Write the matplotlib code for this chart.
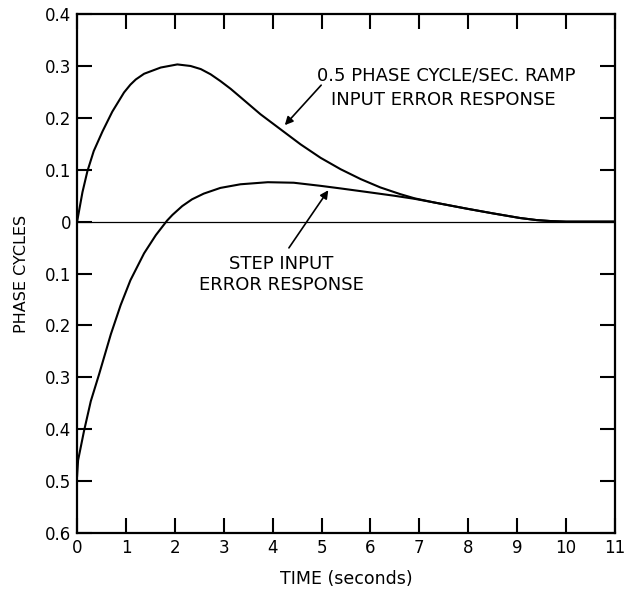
import matplotlib
matplotlib.use("Agg")
import matplotlib.pyplot as plt

# curves (time in s, phase cycles)
ramp_t = [0, 0.11, 0.21, 0.34, 0.52, 0.72, 0.96, 1.09, 1.2, 1.37, 1.71,
          2.05, 2.32, 2.53, 2.73, 2.93, 3.14, 3.34, 3.75, 4.16, 4.57, 4.98,
          5.39, 5.8, 6.2, 6.61, 6.9, 7.3, 7.97, 8.5, 9.06, 9.4, 9.7, 10.0,
          11.0]
ramp_err = [0.0, 0.057, 0.097, 0.136, 0.174, 0.212, 0.249, 0.264, 0.274,
            0.285, 0.297, 0.303, 0.300, 0.294, 0.284, 0.271, 0.256, 0.240,
            0.207, 0.178, 0.149, 0.123, 0.101, 0.082, 0.066, 0.053, 0.045,
            0.037, 0.025, 0.016, 0.007, 0.003, 0.001, 0.0, 0.0]

step_t = [0, 0.02, 0.14, 0.28, 0.45, 0.69, 0.89, 1.09, 1.37, 1.61, 1.84,
          1.95, 2.15, 2.35, 2.59, 2.93, 3.34, 3.9, 4.43, 4.98, 5.39, 5.94,
          6.48, 6.9, 7.3, 7.97, 8.5, 9.06, 9.4, 9.7, 10.0, 11.0]
step_err = [-0.49, -0.46, -0.404, -0.346, -0.294, -0.217, -0.161, -0.113,
            -0.061, -0.026, 0.002, 0.013, 0.030, 0.043, 0.054, 0.065, 0.072,
            0.076, 0.075, 0.069, 0.064, 0.057, 0.050, 0.044, 0.037, 0.025,
            0.016, 0.007, 0.003, 0.001, 0.0, 0.0]

x_ticks = list(range(0, 12))
y_ticks = [0.4, 0.3, 0.2, 0.1, 0.0, -0.1, -0.2, -0.3, -0.4, -0.5, -0.6]
y_labels = ["0.4", "0.3", "0.2", "0.1", "0", "0.1", "0.2", "0.3", "0.4",
            "0.5", "0.6"]

plt.rcParams["font.family"] = ["DejaVu Sans"]

fig = plt.figure(figsize=(6.32, 5.92), dpi=100)
ax = fig.add_axes([0.122, 0.0997, 0.851, 0.8765])

ax.axhline(0, color="black", lw=0.9)
ax.plot(ramp_t, ramp_err, color="black", lw=1.5, solid_joinstyle="round")
ax.plot(step_t, step_err, color="black", lw=1.5, solid_joinstyle="round")

ax.set_xlim(0, 11)
ax.set_ylim(-0.6, 0.4)
ax.set_xticks(x_ticks)
ax.set_yticks(y_ticks)
ax.set_yticklabels(y_labels)
ax.tick_params(direction="in", length=11, width=1.5, labelsize=12,
               top=True, right=True, pad=4)
for s in ax.spines.values():
    s.set_linewidth(1.6)

ax.set_xlabel("TIME (seconds)", fontsize=12.5, labelpad=10)
ax.set_ylabel("PHASE CYCLES", fontsize=11.5, labelpad=12)

ax.text(7.55, 0.282, "0.5 PHASE CYCLE/SEC. RAMP", ha="center", va="center",
        fontsize=13)
ax.text(7.5, 0.234, "INPUT ERROR RESPONSE", ha="center", va="center",
        fontsize=13)
ax.annotate("", xy=(4.21, 0.182), xytext=(5.03, 0.267),
            arrowprops=dict(arrowstyle="-|>", color="black", lw=1.2,
                            mutation_scale=12))

ax.text(4.17, -0.082, "STEP INPUT", ha="center", va="center", fontsize=13)
ax.text(4.17, -0.122, "ERROR RESPONSE", ha="center", va="center", fontsize=13)
ax.annotate("", xy=(5.17, 0.065), xytext=(4.3, -0.055),
            arrowprops=dict(arrowstyle="-|>", color="black", lw=1.2,
                            mutation_scale=12))

fig.savefig("out.png", dpi=100)
